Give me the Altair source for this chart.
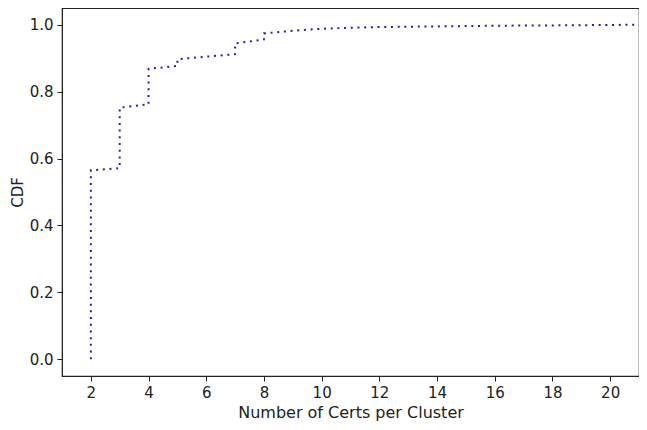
import altair as alt
import pandas as pd

# ECDF step vertices (x = certs per cluster, y = CDF)
xs = [2, 2, 3, 3, 4, 4, 5, 5, 7, 7, 8, 8, 9, 10, 11, 12, 14, 16, 18, 21]
ys = [0.0, 0.565, 0.571, 0.752, 0.762, 0.868, 0.877, 0.897, 0.912, 0.944,
      0.956, 0.974, 0.982, 0.988, 0.991, 0.993, 0.995, 0.997, 0.998, 1.0]
x_ticks = [2, 4, 6, 8, 10, 12, 14, 16, 18, 20]
y_ticks = [0.0, 0.2, 0.4, 0.6, 0.8, 1.0]

df = pd.DataFrame({"x": xs, "y": ys, "i": list(range(len(xs)))})

chart = alt.Chart(df).mark_line(
    color="#22229a", strokeWidth=2, strokeDash=[2, 4.7], strokeCap="butt"
).encode(
    x=alt.X("x:Q", scale=alt.Scale(domain=[1, 21], nice=False, zero=False),
            axis=alt.Axis(values=x_ticks, title="Number of Certs per Cluster",
                          format="d")),
    y=alt.Y("y:Q", scale=alt.Scale(domain=[-0.05, 1.05], nice=False, zero=False),
            axis=alt.Axis(values=y_ticks, title="CDF", format=".1f")),
    order="i:Q",
).properties(
    width=577, height=368,
    autosize=alt.AutoSizeParams(type="none"),
    padding={"left": 54, "top": 0, "right": 0, "bottom": 46},
).configure_view(
    stroke="#222222", strokeWidth=1.2
).configure_axis(
    grid=False, domainColor="#222222", tickColor="#222222", tickSize=5,
    labelFont="DejaVu Sans", labelFontSize=15, labelColor="#222222",
    titleFont="DejaVu Sans", titleFontSize=16, titleColor="#222222",
    titleFontWeight="normal", labelPadding=4
).configure_axisX(
    titlePadding=4
).configure_axisY(
    titlePadding=4, titleFontSize=15
)

chart.save("out.html", embed_options={"renderer": "svg", "actions": False})
